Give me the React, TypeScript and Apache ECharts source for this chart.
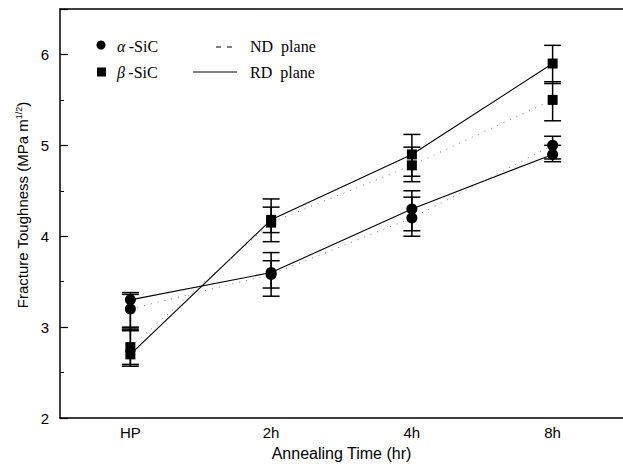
import React, { useEffect, useRef } from "react";
import * as echarts from "echarts";

const categories = ["HP", "2h", "4h", "8h"];
const yTicks = [2, 3, 4, 5, 6];

const alphaRD = [3.3, 3.6, 4.3, 4.9];
const alphaND = [3.2, 3.58, 4.2, 5.0];
const betaRD = [2.7, 4.18, 4.9, 5.9];
const betaND = [2.78, 4.15, 4.78, 5.5];

const alphaRDLow = [3.0, 3.34, 4.06, 4.82];
const alphaRDHigh = [3.38, 3.82, 4.5, 5.0];
const alphaNDLow = [2.97, 3.43, 4.0, 4.85];
const alphaNDHigh = [3.36, 3.73, 4.43, 5.1];
const betaRDLow = [2.57, 3.94, 4.66, 5.68];
const betaRDHigh = [2.99, 4.41, 5.12, 6.1];
const betaNDLow = [2.59, 4.04, 4.6, 5.27];
const betaNDHigh = [2.96, 4.32, 4.98, 5.7];

const errData = (lo: number[], hi: number[]) => lo.map((l, i) => [i, l, hi[i]]);

const SANS = "Liberation Sans, Arial, sans-serif";
const SERIF = "Liberation Serif, Times New Roman, serif";

export default function App() {
  const ref = useRef<HTMLDivElement>(null);
  useEffect(() => {
    if (!ref.current) return;
    const chart = echarts.init(ref.current, null, { renderer: "svg" });
    const errSeries = (lo: number[], hi: number[]) => ({
      type: "custom",
      data: errData(lo, hi),
      encode: { x: 0, y: [1, 2] },
      z: 3,
      renderItem: (params: any, api: any) => {
        const x = api.value(0);
        const a = api.coord([x, api.value(1)]);
        const b = api.coord([x, api.value(2)]);
        const hw = 8.5;
        const st = { stroke: "#000", lineWidth: 1.5 };
        return {
          type: "group",
          children: [
            { type: "line", shape: { x1: a[0], y1: a[1], x2: b[0], y2: b[1] }, style: st },
            { type: "line", shape: { x1: a[0] - hw, y1: a[1], x2: a[0] + hw, y2: a[1] }, style: st },
            { type: "line", shape: { x1: b[0] - hw, y1: b[1], x2: b[0] + hw, y2: b[1] }, style: st },
          ],
        };
      },
    });
    const lineSeries = (data: number[], symbol: string, dotted: boolean) => ({
      type: "line",
      data,
      symbol,
      symbolSize: symbol === "circle" ? 11 : 10,
      itemStyle: { color: "#000" },
      lineStyle: dotted
        ? { color: "#777", width: 1, type: [1, 6] }
        : { color: "#000", width: 1.1 },
      z: 4,
    });
    chart.setOption({
      animation: false,
      grid: { left: 60, right: -3, top: 9, bottom: 45 },
      xAxis: [
        {
          type: "category",
          data: categories,
          boundaryGap: true,
          axisLine: { lineStyle: { color: "#000", width: 1.5 } },
          axisTick: { inside: true, alignWithLabel: true, length: 7, lineStyle: { color: "#000", width: 1.5 } },
          axisLabel: { color: "#000", fontFamily: SANS, fontSize: 15, margin: 7 },
          name: "Annealing Time (hr)",
          nameLocation: "middle",
          nameGap: 27,
          nameTextStyle: { color: "#000", fontFamily: SANS, fontSize: 16 },
        },
        {
          type: "category",
          data: categories,
          position: "top",
          axisLine: { show: true, lineStyle: { color: "#000", width: 1.5 } },
          axisTick: { show: false },
          axisLabel: { show: false },
        },
      ],
      yAxis: {
        type: "value",
        min: yTicks[0],
        max: 6.5,
        interval: 1,
        splitLine: { show: false },
        axisLine: { show: true, lineStyle: { color: "#000", width: 1.5 } },
        axisTick: { show: true, inside: true, length: 8, lineStyle: { color: "#000", width: 1.2 } },
        minorTick: { show: true, splitNumber: 2, length: 4, lineStyle: { color: "#000", width: 1 } },
        axisLabel: {
          color: "#000",
          fontFamily: SANS,
          fontSize: 15,
          margin: 11,
          showMaxLabel: false,
          formatter: (v: number) => (yTicks.includes(v) ? String(v) : ""),
        },
      },
      graphic: [
        {
          type: "text",
          x: 22,
          y: 205,
          rotation: Math.PI / 2,
          style: {
            text: "{m|Fracture Toughness (MPa m}{s|1/2}{m|)}",
            align: "center",
            verticalAlign: "middle",
            rich: {
              m: { fontFamily: SANS, fontSize: 15, fill: "#000", verticalAlign: "bottom" },
              s: { fontFamily: SANS, fontSize: 9, fill: "#000", verticalAlign: "top", padding: [0, 0, 6, 0] },
            },
          },
        },
        { type: "circle", shape: { cx: 101, cy: 45, r: 4.5 }, style: { fill: "#000" } },
        { type: "rect", shape: { x: 97, y: 67.5, width: 9, height: 9 }, style: { fill: "#000" } },
        {
          type: "text",
          x: 117,
          y: 46,
          style: {
            text: "{g|α} {t|-SiC}",
            verticalAlign: "middle",
            rich: {
              g: { fontFamily: SERIF, fontSize: 16, fontStyle: "italic", fill: "#000" },
              t: { fontFamily: SERIF, fontSize: 16, fill: "#000" },
            },
          },
        },
        {
          type: "text",
          x: 117,
          y: 72,
          style: {
            text: "{g|β} {t|-SiC}",
            verticalAlign: "middle",
            rich: {
              g: { fontFamily: SERIF, fontSize: 16, fontStyle: "italic", fill: "#000" },
              t: { fontFamily: SERIF, fontSize: 16, fill: "#000" },
            },
          },
        },
        {
          type: "line",
          shape: { x1: 216, y1: 47, x2: 233, y2: 47 },
          style: { stroke: "#000", lineWidth: 1, lineDash: [5, 6] },
        },
        {
          type: "line",
          shape: { x1: 193, y1: 72, x2: 237, y2: 72 },
          style: { stroke: "#000", lineWidth: 1 },
        },
        {
          type: "text",
          x: 250,
          y: 46,
          style: { text: "ND  plane", fontFamily: SERIF, fontSize: 16, fill: "#000", verticalAlign: "middle" },
        },
        {
          type: "text",
          x: 250,
          y: 72,
          style: { text: "RD  plane", fontFamily: SERIF, fontSize: 16, fill: "#000", verticalAlign: "middle" },
        },
      ],
      series: [
        errSeries(alphaRDLow, alphaRDHigh),
        errSeries(alphaNDLow, alphaNDHigh),
        errSeries(betaRDLow, betaRDHigh),
        errSeries(betaNDLow, betaNDHigh),
        lineSeries(alphaRD, "circle", false),
        lineSeries(alphaND, "circle", true),
        lineSeries(betaRD, "rect", false),
        lineSeries(betaND, "rect", true),
      ],
    });
    return () => chart.dispose();
  }, []);
  return (
    <div
      ref={ref}
      style={{ position: "absolute", left: 0, top: 0, width: 623, height: 466, background: "#fff" }}
    />
  );
}
